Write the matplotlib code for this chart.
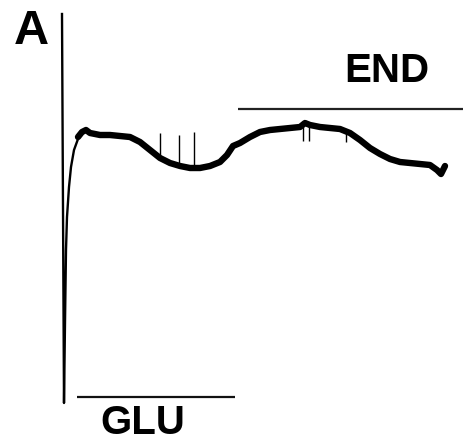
import numpy as np
import matplotlib.pyplot as plt

plt.rcParams['font.family'] = ['Liberation Sans', 'DejaVu Sans']

# fast transient at the start: time (s) and signal (a.u.)
fast_t = [-1, 1, 2, 3, 4, 6, 8, 11, 15]
fast_v = [389, 0, 80, 153, 186, 216, 236, 253, 264]

# slow trace
trace_t = [15, 19, 23, 27, 37, 47, 57, 67, 77, 87, 97, 107, 117, 127, 137, 147,
           157, 164, 170, 177, 187, 197, 207, 217, 227, 237, 242, 247, 257, 267,
           277, 287, 297, 307, 317, 327, 337, 347, 357, 367, 374, 378, 382]
trace_v = [266, 271, 273, 270, 268, 268, 267, 266, 261, 253, 245, 240, 237, 235,
           235, 237, 241, 248, 257, 260, 266, 271, 273, 274, 275, 276, 280, 278,
           276, 275, 274, 270, 263, 255, 249, 244, 241, 240, 239, 238, 233, 229, 237]

# brief artefact spikes on the trace
spike_t = [97, 116, 131, 240, 246, 283]
spike_lo = [248, 238, 236, 262, 262, 261]
spike_hi = [270, 268, 271, 276, 277, 272]

# drug application bars
glu_on, glu_off, glu_level = 14, 172, 6
end_on, end_off, end_level = 175, 400, 294

fig = plt.figure(figsize=(4.63, 4.42), dpi=100)
ax = fig.add_axes([0, 0, 1, 1])
ax.set_xlim(-63, 400)
ax.set_ylim(-39, 403)
ax.axis('off')

ax.plot(fast_t, fast_v, color='black', lw=1.7)
ax.plot(trace_t, trace_v, color='black', lw=4.6, solid_joinstyle='round',
        solid_capstyle='round')
ax.vlines(spike_t, spike_lo, spike_hi, color='black', lw=1.0)

ax.hlines(glu_level, glu_on, glu_off, color='#111111', lw=1.6)
ax.hlines(end_level, end_on, end_off, color='#222222', lw=1.6)

ax.text(80, -20, 'GLU', fontsize=29, fontweight='bold', ha='center', va='center')
ax.text(324, 332, 'END', fontsize=29, fontweight='bold', ha='center', va='center')
ax.text(-32, 371, 'A', fontsize=35, fontweight='bold', ha='center', va='center')

fig.savefig('out.png', dpi=100)
